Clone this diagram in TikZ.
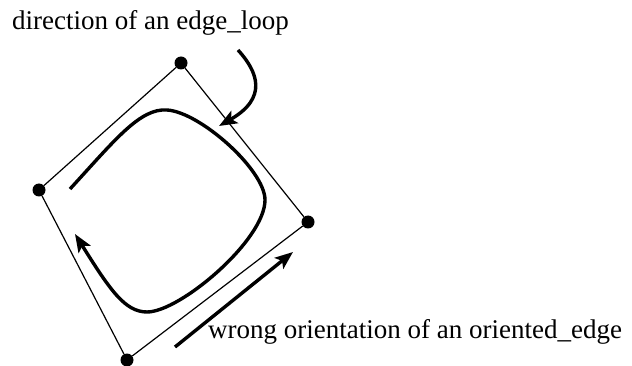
\documentclass[tikz,border=0pt]{standalone}
\usepackage{fontspec}
\setmainfont{Liberation Serif}
\usetikzlibrary{arrows.meta}
\begin{document}
\begin{tikzpicture}[x=1pt,y=-1pt,
  vdot/.style={circle,fill=black,inner sep=0pt,minimum size=13pt},
  edgeline/.style={line width=1.2pt},
  thickarrow/.style={line width=3.4pt,-{Stealth[length=18pt,width=14pt,inset=4pt]}},
  lbl/.style={font=\fontsize{27}{30}\selectfont,inner sep=0pt}]
\useasboundingbox (0,0) rectangle (632,366);
\node[vdot] (t) at (181,63) {};
\node[vdot] (l) at (39,190) {};
\node[vdot] (r) at (308,222) {};
\node[vdot] (b) at (127,360) {};
\draw[edgeline] (t) -- (r) -- (b) -- (l) -- (t);
% loop
\coordinate (ls) at (70,189);
\coordinate (le) at (75,234);
\draw[thickarrow] (ls) .. controls (115,140) and (140,108) .. (167,110)
  .. controls (200,112) and (265,170) .. (265,200)
  .. controls (265,240) and (180,312) .. (147,312)
  .. controls (125,312) and (110,290) .. (le);
% pointer
\coordinate (ps) at (238,50);
\coordinate (pe) at (219,126);
\draw[thickarrow] (ps) .. controls (258,72) and (268,98) .. (pe);
% oriented edge
\coordinate (os) at (175,347);
\coordinate (oe) at (293,252);
\draw[thickarrow] (os) -- (oe);
\node[lbl,anchor=base west] (t1) at (12,30) {direction of an edge\_loop};
\node[lbl,anchor=base west] (t2) at (208,338) {wrong orientation of an oriented\_edge};
\end{tikzpicture}
\end{document}
